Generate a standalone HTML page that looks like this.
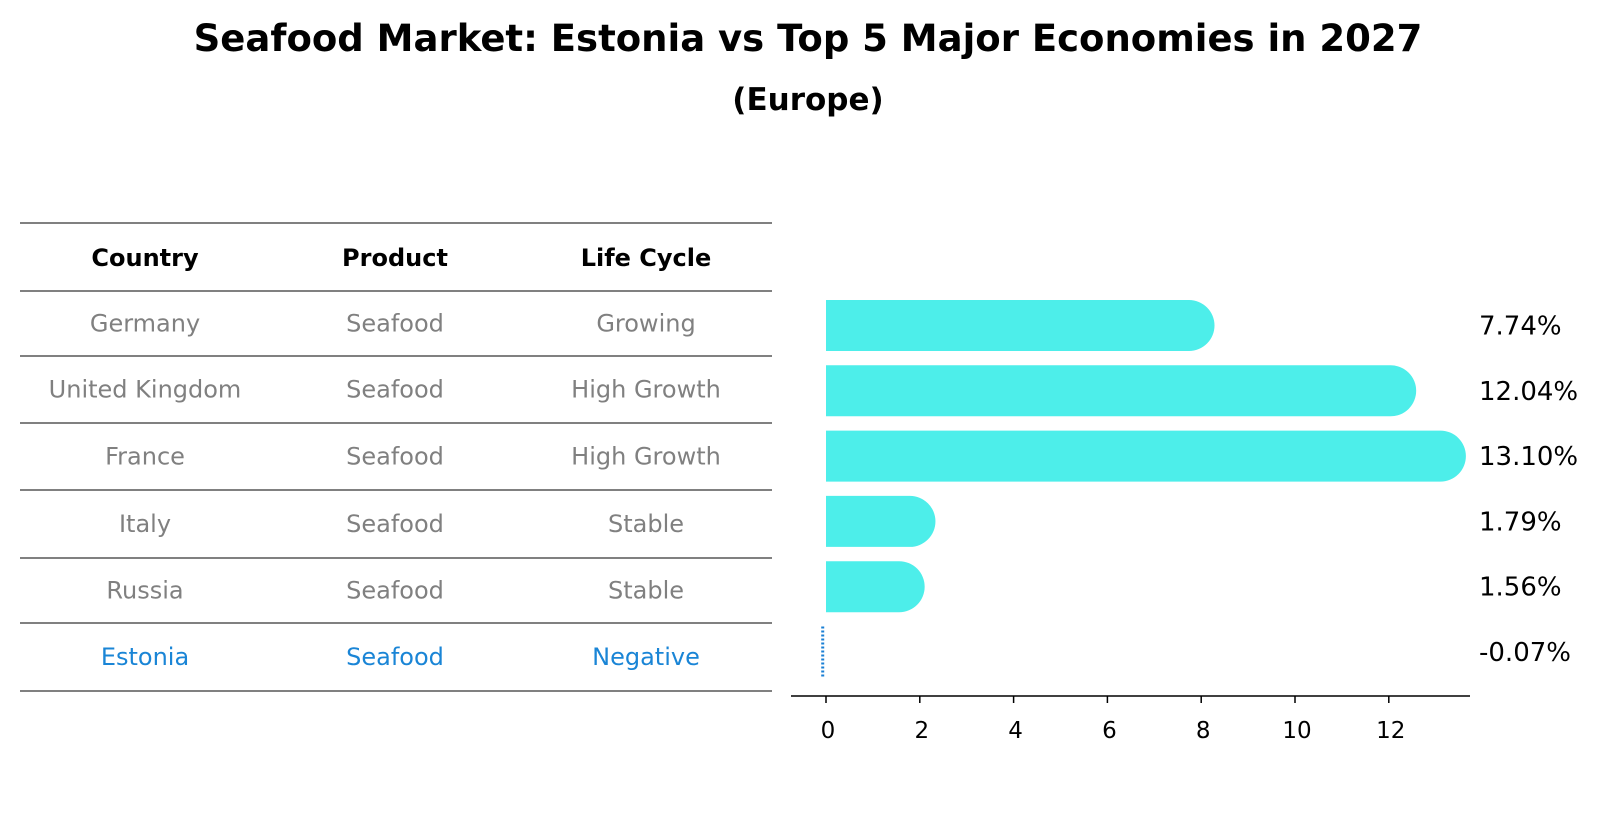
<!DOCTYPE html>
<html><head><meta charset="utf-8"><style>
html,body{margin:0;padding:0;background:#fff;overflow:hidden;width:1604px;height:823px}
svg{display:block}
</style></head><body>
<svg width="1604" height="823" xmlns="http://www.w3.org/2000/svg" font-family="DejaVu Sans, Liberation Sans, sans-serif">
<text x="808" y="51" text-anchor="middle" font-size="37" font-weight="bold">Seafood Market: Estonia vs Top 5 Major Economies in 2027</text>
<text x="808" y="110" text-anchor="middle" font-size="31" font-weight="bold">(Europe)</text>
<g id="table"></g>
<g id="bars"></g>
</svg>
<script>
const countries=["Germany","United Kingdom","France","Italy","Russia","Estonia"];
const products=["Seafood","Seafood","Seafood","Seafood","Seafood","Seafood"];
const cycles=["Growing","High Growth","High Growth","Stable","Stable","Negative"];
const values=[7.74,12.04,13.10,1.79,1.56,-0.07];
const ticks=[0,2,4,6,8,10,12];
const NS="http://www.w3.org/2000/svg";
function mk(t,a,p,txt){const e=document.createElementNS(NS,t);for(const k in a)e.setAttribute(k,a[k]);if(txt!==undefined)e.textContent=txt;p.appendChild(e);return e;}
const tb=document.getElementById('table');
const lineYs=[223,291,356,423,490,558,623,691];
lineYs.forEach((y,i)=>{const l=mk('line',{x1:20,x2:772,y1:y,y2:y,stroke:'#000','stroke-width':1},tb);

});
const colX=[145,395,646];
["Country","Product","Life Cycle"].forEach((h,i)=>{const t=mk('text',{x:colX[i],y:266,'text-anchor':'middle','font-size':24,'font-weight':'bold'},tb,h);

});
countries.forEach((c,r)=>{const y=(lineYs[r+1]+lineYs[r+2])/2+8;const col=c==="Estonia"?'#1a85d6':'#808080';
[c,products[r],cycles[r]].forEach((v,i)=>{const t=mk('text',{x:colX[i],y:y,'text-anchor':'middle','font-size':24,fill:col},tb,v);

});});
const g=document.getElementById('bars');
const x0=826,ppu=46.9;const X=v=>x0+v*ppu;
const yC=i=>325.5+i*65.3;const h=51,r=25.5;
values.forEach((v,i)=>{const yc=yC(i);
if(v>0){const xe=X(v);const p=mk('path',{d:`M${x0},${yc-h/2} L${xe},${yc-h/2} A${r},${r} 0 0 1 ${xe},${yc+h/2} L${x0},${yc+h/2} Z`,fill:'#4deeea'},g);

}
else{const l=mk('line',{x1:X(v),x2:X(v),y1:yc-h/2,y2:yc+h/2,stroke:'#1a7fd4','stroke-width':3,'stroke-dasharray':'2,2'},g);

}
const t=mk('text',{x:1479,y:yc+9,'font-size':26},g,(v<0?'-':'')+Math.abs(v).toFixed(2)+'%');

});
const ax=mk('line',{x1:791,x2:1470,y1:696,y2:696,stroke:'#000','stroke-width':1.5},g);


ticks.forEach(tv=>{const tk=mk('line',{x1:X(tv),x2:X(tv),y1:696,y2:703,stroke:'#000','stroke-width':1.5},g);


const t=mk('text',{x:X(tv)+2,y:738,'text-anchor':'middle','font-size':23},g,tv);

});
</script>
</body></html>
